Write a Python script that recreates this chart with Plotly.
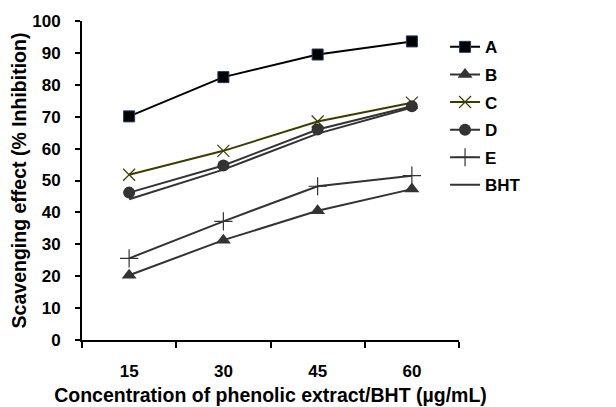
import plotly.graph_objects as go

concentrations = ["15", "30", "45", "60"]
series_names = ["A", "B", "C", "D", "E", "BHT"]
vals_A = [70.1, 82.4, 89.5, 93.6]
vals_B = [20.3, 31.3, 40.5, 47.3]
vals_C = [51.8, 59.3, 68.5, 74.4]
vals_D = [46.2, 54.7, 66.0, 73.3]
vals_E = [25.6, 37.2, 48.2, 51.5]
vals_BHT = [44.1, 53.4, 64.7, 72.9]
y_ticks = [0, 10, 20, 30, 40, 50, 60, 70, 80, 90, 100]

styles = {
    "A": dict(line=dict(color="#000000", width=2),
              marker=dict(symbol="square", size=11, color="#000000", line=dict(color="#1f3a60", width=1))),
    "B": dict(line=dict(color="#333333", width=2),
              marker=dict(symbol="triangle-up", size=13, color="#333333")),
    "C": dict(line=dict(color="#3d3d00", width=2),
              marker=dict(symbol="x-thin", size=12, color="#3d3d00", line=dict(color="#3d3d00", width=1.2))),
    "D": dict(line=dict(color="#333333", width=2),
              marker=dict(symbol="circle", size=12, color="#333333")),
    "E": dict(line=dict(color="#333333", width=2),
              marker=dict(symbol="cross-thin", size=13, color="#333333", line=dict(color="#333333", width=1.2))),
    "BHT": dict(line=dict(color="#333333", width=2), marker=None),
}
data = {"A": vals_A, "B": vals_B, "C": vals_C, "D": vals_D, "E": vals_E, "BHT": vals_BHT}

fig = go.Figure()
for name in series_names:
    st = styles[name]
    kw = dict(x=concentrations, y=data[name], name=name, legendgroup=name, line=st["line"])
    if st["marker"] is None:
        kw["mode"] = "lines"
    else:
        kw["mode"] = "lines+markers"
        kw["marker"] = st["marker"]
    fig.add_trace(go.Scatter(**kw))

font_family = "Liberation Sans, Arial, sans-serif"
fig.update_layout(
    width=616, height=407,
    margin=dict(l=74, r=165, t=13, b=75),
    plot_bgcolor="white", paper_bgcolor="white",
    font=dict(family=font_family, color="#000000"),
    showlegend=True,
    legend=dict(x=0.963, y=0.974, xanchor="left", yanchor="top",
                font=dict(size=17, family=font_family, color="#000000", weight="bold"),
                itemwidth=30, tracegroupgap=2.5, bgcolor="rgba(0,0,0,0)"),
    xaxis=dict(type="category", range=[-0.5, 3.5], showline=True, linecolor="#000000", linewidth=2,
               ticks="outside", tickson="boundaries", ticklen=6, tickwidth=2, tickcolor="#000000",
               showgrid=False, zeroline=False, ticklabelstandoff=15, automargin=False,
               tickfont=dict(size=17, family=font_family, weight="bold"),
               title=dict(text="Concentration of phenolic extract/BHT (µg/mL)",
                          font=dict(size=19.5, family=font_family, weight="bold"), standoff=8)),
    yaxis=dict(range=[0, 100], tickvals=y_ticks, showline=True, linecolor="#000000", linewidth=2,
               ticks="outside", ticklen=5, tickwidth=2, tickcolor="#000000",
               showgrid=False, zeroline=False, ticklabelstandoff=11, automargin=False,
               tickfont=dict(size=17, family=font_family, weight="bold"),
               title=dict(text="Scavenging effect (% Inhibition)",
                          font=dict(size=19.5, family=font_family, weight="bold"), standoff=4)),
)

fig.write_html("out.html")
